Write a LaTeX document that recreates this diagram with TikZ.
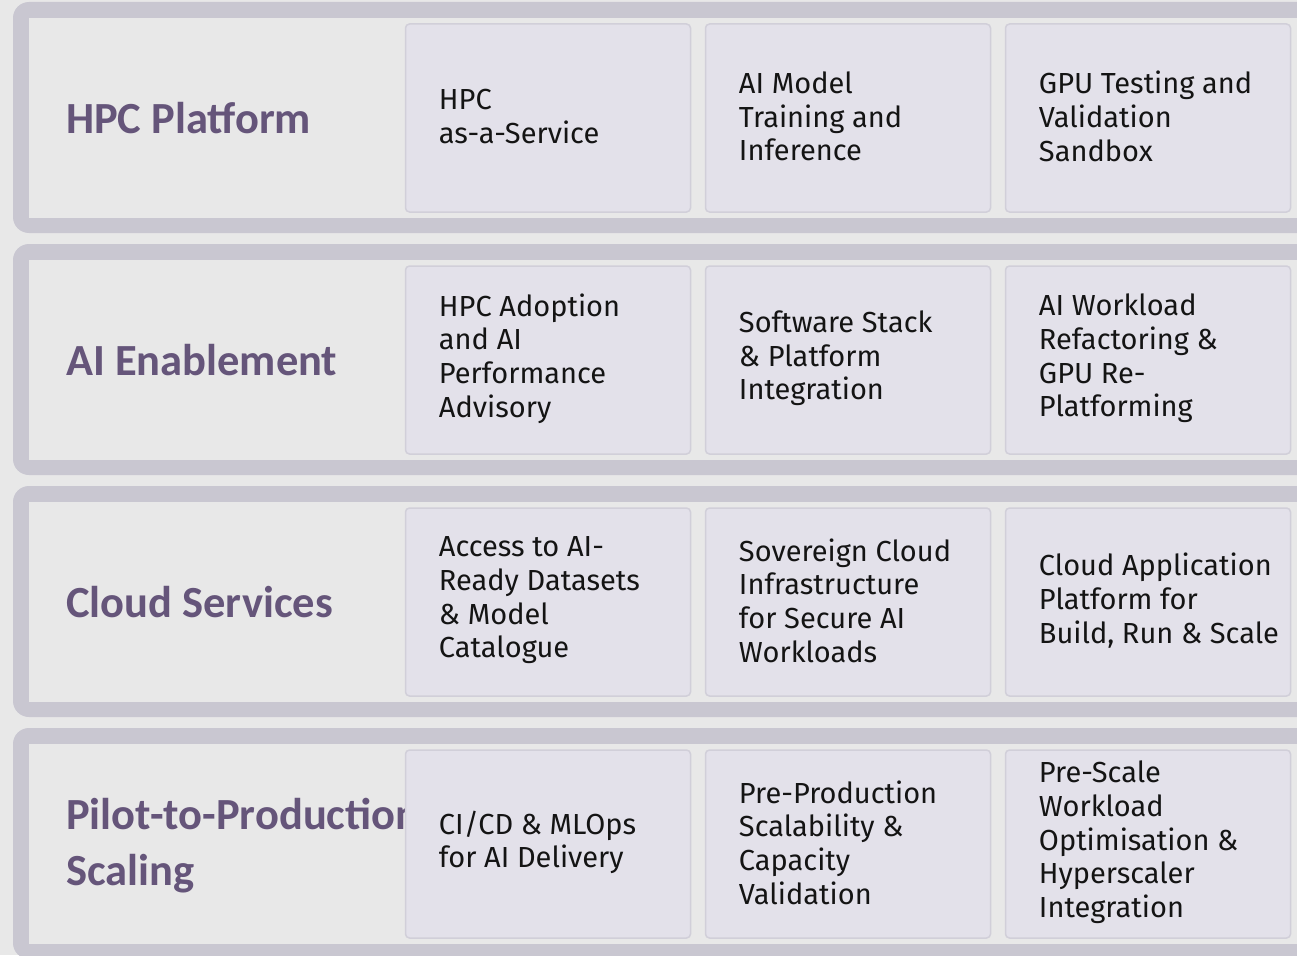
\documentclass[tikz,border=0pt]{standalone}
\usepackage{fontspec}
\setmainfont{Fira Sans}
\newfontfamily\titlefont{Carlito}
\definecolor{bgc}{HTML}{E8E8E8}
\definecolor{bandc}{HTML}{C9C7D1}
\definecolor{cellfill}{HTML}{E3E1EA}
\definecolor{celldraw}{HTML}{D1CFD9}
\definecolor{titlec}{HTML}{65557A}
\definecolor{textc}{HTML}{141414}
\tikzset{
  cellbox/.style={draw=celldraw, fill=cellfill, line width=1.5pt, rounded corners=4pt,
    minimum width=285pt, minimum height=188pt, inner sep=0pt},
  celltext/.style={anchor=west, align=left, inner sep=0pt, text=textc,
    font=\fontsize{29}{33.7}\selectfont},
  titletext/.style={anchor=west, align=left, inner sep=0pt, text=titlec,
    font=\titlefont\bfseries\fontsize{44.5}{56}\selectfont},
}
\begin{document}
\begin{tikzpicture}[x=1pt,y=-1pt]
\useasboundingbox (0,0) rectangle (1297,955);
\clip (0,0) rectangle (1297,955);
\fill[bgc] (0,0) rectangle (1297,955);
% bands
\foreach \T in {2,244,486,728}{
  \fill[bandc, rounded corners=16pt] (13,\T) rectangle (1340,\T+231);
  \fill[bgc] (29,\T+16) rectangle (1340,\T+216);
}
% titles
\node[titletext] (h1) at (66,118) {HPC Platform};
\node[titletext] (h2) at (66,360) {AI Enablement};
\node[titletext] (h3) at (66,602) {Cloud Services};
\node[titletext] (h4) at (66,846) {Pilot-to-Production\\Scaling};
% cells
\foreach \r/\T in {1/2,2/244,3/486,4/728}{
  \node[cellbox] (c\r1) at (548,\T+116) {};
  \node[cellbox] (c\r2) at (848,\T+116) {};
  \node[cellbox] (c\r3) at (1148,\T+116) {};
}
\tikzset{celltext/.append style={yshift=1.5pt}}
\node[celltext] (t11) at ([xshift=34pt]c11.west) {HPC\\as-a-Service};
\node[celltext] (t12) at ([xshift=34pt]c12.west) {AI Model\\Training and\\Inference};
\node[celltext] (t13) at ([xshift=34pt]c13.west) {GPU Testing and\\Validation\\Sandbox};
\node[celltext] (t21) at ([xshift=34pt]c21.west) {HPC Adoption\\and AI\\Performance\\Advisory};
\node[celltext] (t22) at ([xshift=34pt]c22.west) {Software Stack\\\& Platform\\Integration};
\node[celltext] (t23) at ([xshift=34pt]c23.west) {AI Workload\\Refactoring \&\\GPU Re-\\Platforming};
\node[celltext] (t31) at ([xshift=34pt]c31.west) {Access to AI-\\Ready Datasets\\\& Model\\Catalogue};
\node[celltext] (t32) at ([xshift=34pt]c32.west) {Sovereign Cloud\\Infrastructure\\for Secure AI\\Workloads};
\node[celltext] (t33) at ([xshift=34pt]c33.west) {Cloud Application\\Platform for\\Build, Run \& Scale};
\node[celltext] (t41) at ([xshift=34pt]c41.west) {CI/CD \& MLOps\\for AI Delivery};
\node[celltext] (t42) at ([xshift=34pt]c42.west) {Pre-Production\\Scalability \&\\Capacity\\Validation};
\node[celltext] (t43) at ([xshift=34pt]c43.west) {Pre-Scale\\Workload\\Optimisation \&\\Hyperscaler\\Integration};
\end{tikzpicture}
\end{document}
